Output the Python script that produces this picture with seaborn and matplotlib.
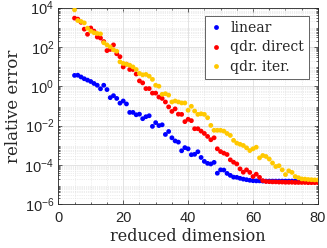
import numpy as np
import pandas as pd
import matplotlib
matplotlib.use("Agg")
import matplotlib.pyplot as plt
import seaborn as sns
from matplotlib.ticker import LogLocator, MultipleLocator, NullFormatter, FixedLocator

# reduced dimensions on the x axis
dims = list(range(5, 81))

# log10 of the relative error (one value per dimension 5..80)
linear_exp = [
    0.55, 0.56, 0.47, 0.38, 0.31, 0.24, 0.14, 0.05, -0.13, 0.05,
    -0.17, -0.58, -0.48, -0.62, -0.86, -0.75, -0.90, -1.33, -1.33, -1.45,
    -1.42, -1.65, -1.55, -1.50, -2.04, -1.85, -2.00, -1.96, -2.45, -2.30,
    -2.62, -2.78, -2.84, -3.28, -3.12, -3.18, -3.48, -3.46, -3.33, -3.62,
    -3.82, -3.92, -3.95, -3.87, -4.42, -4.25, -4.26, -4.43, -4.53, -4.62,
    -4.63, -4.68, -4.72, -4.75, -4.78, -4.80, -4.81, -4.81, -4.82, -4.82,
    -4.82, -4.82, -4.82, -4.82, -4.82, -4.82, -4.82, -4.82, -4.82, -4.82,
    -4.82, -4.82, -4.82, -4.82, -4.82, -4.82,
]
direct_exp = [
    3.46, 3.41, 3.25, 2.90, 2.64, 2.96, 2.80, 2.50, 2.45, 2.27,
    1.81, 1.87, 2.10, 1.65, 1.50, 0.98, 1.12, 0.85, 0.85, 0.62,
    0.27, 0.17, -0.12, -0.12, -0.35, -0.35, -0.55, -0.62, -0.80, -1.05,
    -1.28, -1.15, -1.42, -1.43, -1.80, -1.68, -1.75, -2.16, -2.16, -2.28,
    -2.40, -2.55, -2.72, -2.62, -3.18, -3.32, -3.40, -3.47, -3.74, -3.86,
    -3.95, -4.20, -4.37, -4.25, -4.38, -4.59, -4.47, -4.63, -4.80, -4.84,
    -4.85, -4.86, -4.86, -4.87, -4.87, -4.88, -4.88, -4.88, -4.89, -4.89,
    -4.89, -4.89, -4.90, -4.90, -4.90, -4.90,
]
iter_exp = [
    3.88, 3.34, 3.29, 3.22, 2.95, 2.80, 2.72, 2.68, 2.66, 2.21,
    2.10, 2.00, 1.85, 1.78, 1.24, 1.16, 1.12, 1.07, 0.98, 0.85,
    0.65, 0.58, 0.60, 0.51, 0.35, 0.05, 0.00, -0.41, -0.38, -0.45,
    -0.80, -0.75, -0.80, -0.85, -0.85, -1.22, -1.02, -1.26, -1.43, -1.40,
    -1.43, -1.60, -1.99, -2.24, -2.24, -2.24, -2.28, -2.40, -2.50, -2.75,
    -2.89, -2.95, -3.01, -3.13, -3.27, -3.18, -3.10, -3.64, -3.52, -3.57,
    -3.70, -3.90, -4.08, -4.04, -4.25, -4.49, -4.30, -4.38, -4.59, -4.65,
    -4.71, -4.72, -4.74, -4.75, -4.76, -4.76,
]

series_names = ["linear", "qdr. direct", "qdr. iter."]
series_colors = ["#0000ff", "#ff0000", "#ffc800"]
x_ticks = [0, 20, 40, 60, 80]
y_ticks = [1e-6, 1e-4, 1e-2, 1e0, 1e2, 1e4]

df = pd.DataFrame({
    "dim": dims * 3,
    "err": 10.0 ** np.concatenate([linear_exp, direct_exp, iter_exp]),
    "method": np.repeat(series_names, len(dims)),
})

sns.set_theme(style="ticks")
plt.rcParams["font.family"] = ["Liberation Sans", "DejaVu Sans"]
plt.rcParams["mathtext.fontset"] = "custom"
plt.rcParams["mathtext.rm"] = "Liberation Sans"
plt.rcParams["mathtext.it"] = "Liberation Sans:italic"
plt.rcParams["mathtext.default"] = "regular"
plt.rcParams["axes.unicode_minus"] = False

fig = plt.figure(figsize=(3.27, 2.48), dpi=100)
ax = fig.add_axes([0.1783, 0.1762, 0.794, 0.7935])

sns.scatterplot(data=df, x="dim", y="err", hue="method", hue_order=series_names,
                palette=series_colors, s=12, linewidth=0, ax=ax, zorder=3)

ax.set_yscale("log")
ax.set_xlim(0, 80)
ax.set_ylim(1e-6, 1e4)
ax.set_xticks(x_ticks)
ax.yaxis.set_major_locator(FixedLocator(y_ticks))
ax.yaxis.set_minor_locator(LogLocator(base=10, subs=np.arange(2, 10), numticks=20))
ax.yaxis.set_minor_formatter(NullFormatter())
ax.xaxis.set_minor_locator(MultipleLocator(5))

ax.grid(True, which="major", color="#dedede", linewidth=0.6, linestyle="-")
ax.grid(True, which="minor", color="#dcdcdc", linewidth=0.5, linestyle=":")
ax.set_axisbelow(True)

for sp in ax.spines.values():
    sp.set_color("#262626")
    sp.set_linewidth(0.6)
ax.tick_params(which="both", direction="in", top=True, right=True, color="#262626",
               labelsize=10.5, width=0.5)
ax.tick_params(axis="x", pad=5)
ax.tick_params(axis="y", pad=3)
ax.tick_params(which="major", length=3)
ax.tick_params(which="minor", length=1.5)

ax.set_xlabel("reduced dimension", family="DejaVu Serif", fontsize=11.5, labelpad=2)
ax.set_ylabel("relative error", family="DejaVu Serif", fontsize=12, labelpad=2)

sns.move_legend(ax, "upper right", bbox_to_anchor=(0.965, 0.957), title=None,
                frameon=True, fancybox=False, edgecolor="#262626", framealpha=1,
                prop={"family": "DejaVu Serif", "size": 10}, handletextpad=0.5,
                borderpad=0.35, labelspacing=0.4, markerscale=1.0, handlelength=1.0,
                borderaxespad=0)
ax.get_legend().get_frame().set_linewidth(0.5)

fig.savefig("out.png", dpi=100)
